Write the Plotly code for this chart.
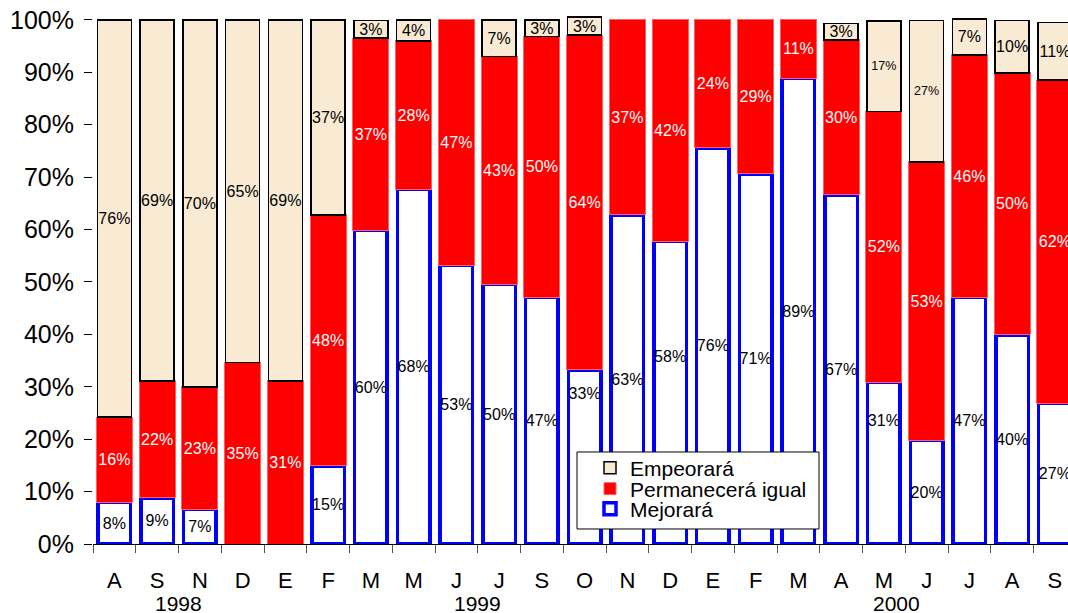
import plotly.graph_objects as go

months = ["A", "S", "N", "D", "E", "F", "M", "M", "J", "J", "S", "O",
          "N", "D", "E", "F", "M", "A", "M", "J", "J", "A", "S"]
years = ["1998", "1999", "2000"]
year_pos = [1.5, 8.5, 18.3]

mejorara = [8.0, 8.8, 6.6, 0, 0, 14.9, 59.9, 67.6, 53.2, 49.6, 47.1, 33.2,
            62.8, 57.7, 75.6, 70.6, 88.9, 66.6, 30.9, 19.8, 47.1, 39.9, 26.9]
permanecera = [16.2, 22.3, 23.4, 34.6, 31.1, 47.9, 36.6, 28.4, 46.8, 43.4, 49.7, 63.9,
               37.2, 42.3, 24.4, 29.4, 11.1, 29.6, 51.6, 53.1, 46.2, 50.0, 61.6]
empeorara = [75.8, 68.9, 70.0, 65.4, 68.9, 37.2, 3.4, 4.0, 0, 7.0, 3.2, 3.4,
             0, 0, 0, 0, 0, 3.1, 17.3, 27.0, 6.9, 10.0, 11.0]
y_ticks = list(range(0, 101, 10))
# "Mejorará" labels that the original moved up, clear of the legend (index: label height)
mej_label_moved = {11: 28.4, 13: 35.5, 18: 23.3}

x = list(range(len(months)))
FONT = "Liberation Sans, Arial, sans-serif"


def labels(vals, skip=()):
    return [f"{v:.0f}%" if v > 0 and i not in skip else "" for i, v in enumerate(vals)]


def line_widths(vals, w):
    return [w if v > 0 else 0 for v in vals]


emp_sizes = [12.5 if v > 15 and i >= 18 else 16 for i, v in enumerate(empeorara)]

fig = go.Figure()
fig.add_trace(go.Bar(
    x=x, y=mejorara, name="Mejorará", width=0.76,
    marker=dict(color="white", line=dict(color="#0000FF", width=line_widths(mejorara, 3.5))),
    text=labels(mejorara, skip=mej_label_moved), textposition="inside",
    insidetextanchor="middle",
    textangle=0, constraintext="none", cliponaxis=False,
    textfont=dict(color="black", size=16, family=FONT),
    legend="legend3",
))
fig.add_trace(go.Bar(
    x=x, y=permanecera, name="Permanecerá igual", width=0.84,
    marker=dict(color="#FF0000", line=dict(color="#FF6060", width=1)),
    text=labels(permanecera), textposition="inside", insidetextanchor="middle",
    textangle=0, constraintext="none", cliponaxis=False,
    textfont=dict(color="white", size=16, family=FONT),
    legend="legend2",
))
fig.add_trace(go.Bar(
    x=x, y=empeorara, name="Empeorará", width=0.80,
    marker=dict(color="#F9EBD3", line=dict(color="black", width=line_widths(empeorara, 1.5))),
    text=labels(empeorara), textposition="inside", insidetextanchor="middle",
    textangle=0, constraintext="none", cliponaxis=False,
    textfont=dict(color="black", size=emp_sizes, family=FONT),
    legend="legend",
))
moved_idx = list(mej_label_moved)
fig.add_trace(go.Scatter(
    x=moved_idx, y=[mej_label_moved[i] for i in moved_idx],
    text=[f"{mejorara[i]:.0f}%" for i in moved_idx],
    mode="text", textposition="middle center", showlegend=False, hoverinfo="skip",
    textfont=dict(color="black", size=16, family=FONT), cliponaxis=False,
))

W, H = 1068, 613
Y_TOP = 101.5
PX_PER_UNIT = 5.24
L, R, B = 93, 0, 69
ph = Y_TOP * PX_PER_UNIT
T = H - B - ph
pw = W - L - R
PX_PER_CAT = 42.75


def px_x(p):
    return (p - L) / pw


def px_y(p):
    return (H - B - p) / ph


legend_common = dict(xanchor="left", yanchor="middle", bgcolor="rgba(0,0,0,0)",
                     borderwidth=0, font=dict(size=21, family=FONT, color="black"))

annotations = [dict(x=xp, y=px_y(603), xref="x", yref="paper", text=yr, showarrow=False,
                    xanchor="center", yanchor="middle",
                    font=dict(size=21, family=FONT, color="black"))
               for yr, xp in zip(years, year_pos)]

fig.update_layout(
    width=W, height=H,
    margin=dict(l=L, r=R, t=T, b=B, autoexpand=False),
    barmode="stack",
    plot_bgcolor="white", paper_bgcolor="white",
    font=dict(family=FONT, color="black"),
    showlegend=True,
    legend=dict(x=px_x(590), y=px_y(468), **legend_common),
    legend2=dict(x=px_x(590), y=px_y(489), **legend_common),
    legend3=dict(x=px_x(590), y=px_y(509), **legend_common),
    shapes=[dict(type="rect", xref="paper", yref="paper",
                 x0=px_x(577), x1=px_x(819), y0=px_y(529), y1=px_y(452),
                 fillcolor="white", line=dict(color="black", width=1), layer="above")],
    annotations=annotations,
    xaxis=dict(
        range=[-0.5, -0.5 + pw / PX_PER_CAT],
        tickmode="array", tickvals=x, ticktext=months,
        ticks="outside", ticklen=17, tickcolor="rgba(0,0,0,0)",
        tickfont=dict(size=22, family=FONT, color="black"),
        showline=True, linecolor="black", linewidth=1,
        showgrid=False, zeroline=False, automargin=False,
        minor=dict(tickmode="array", tickvals=[i - 0.5 for i in range(len(months) + 1)],
                   ticks="outside", ticklen=8, tickcolor="#555", tickwidth=1, showgrid=False),
    ),
    yaxis=dict(
        range=[0, Y_TOP],
        tickmode="array", tickvals=y_ticks, ticktext=[f"{v}%" for v in y_ticks],
        ticks="outside", ticklen=8, tickcolor="black", ticklabelstandoff=5,
        tickfont=dict(size=25, family=FONT, color="black"),
        showline=False, showgrid=False, zeroline=False, automargin=False,
    ),
)

fig.write_html("out.html", post_script="document.body.style.margin='0';",
               config={"displayModeBar": False})
